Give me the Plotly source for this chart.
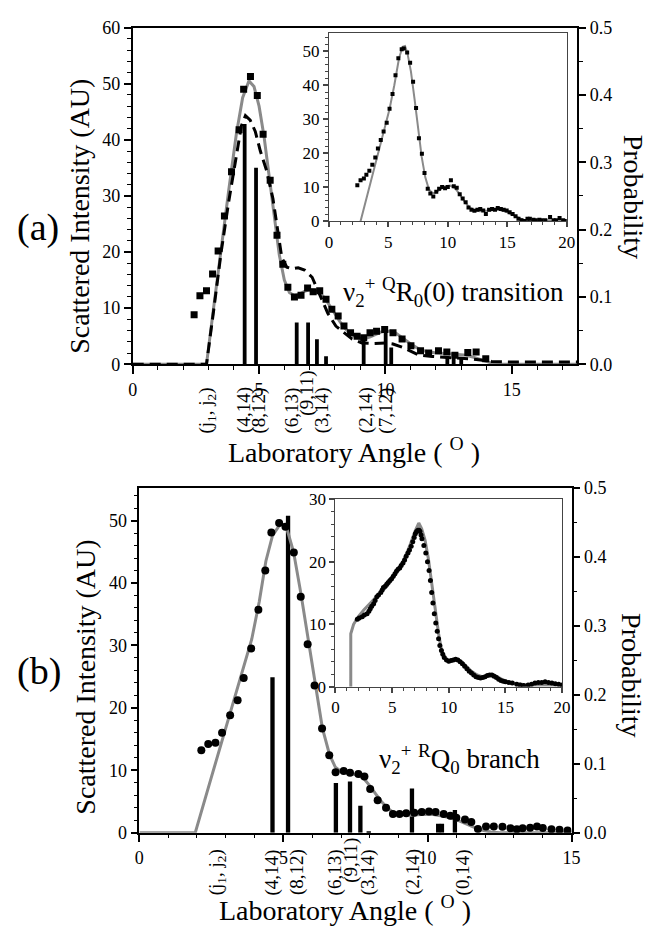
import plotly.graph_objects as go

W, H = 654, 933
FONT = "Liberation Serif, Times New Roman, serif"

# ---------------- panel (a) : main ----------------
a_data_x = [2.43, 2.66, 2.92, 3.16, 3.38, 3.63, 3.91, 4.21, 4.39, 4.66, 4.93, 5.16, 5.44, 5.71,
            5.94, 6.14, 6.40, 6.66, 6.92, 7.14, 7.40, 7.65, 7.88, 8.13, 8.36, 8.62, 8.88, 9.14,
            9.39, 9.65, 9.97, 10.30, 10.66, 11.01, 11.39, 11.71, 12.10, 12.43, 12.75, 13.26,
            13.59, 13.97]
a_data_y = [8.8, 12.2, 13.1, 16.1, 20.2, 26.4, 34.3, 41.8, 49.0, 51.3, 47.9, 41.0, 32.8, 23.0,
            17.8, 13.7, 12.0, 12.3, 13.6, 12.9, 13.1, 11.6, 9.8, 8.6, 6.8, 5.6, 5.0, 4.7,
            5.6, 5.9, 6.2, 5.6, 4.5, 3.3, 2.4, 2.0, 2.4, 2.2, 1.6, 2.1,
            2.2, 1.0]
a_fit_x = [0.0, 2.92, 3.2, 3.5, 3.8, 4.1, 4.35, 4.6, 4.8, 5.0, 5.2, 5.4, 5.6, 5.8, 6.0, 6.2,
           6.4, 6.6, 6.8, 7.0, 7.2, 7.4, 7.6, 7.8, 8.0, 8.2, 8.4, 8.6, 8.8, 9.0, 9.2, 9.4, 9.6,
           9.8, 10.0, 10.2, 10.4, 10.6, 10.8, 11.0, 11.3, 11.6, 12.0, 12.4, 12.8, 13.2, 13.6,
           13.9, 14.2, 14.5, 17.6]
a_fit_y = [0.0, 0.0, 10.0, 21.0, 31.0, 41.0, 47.5, 50.5, 49.5, 46.0, 40.5, 33.5, 26.0, 19.5,
           15.0, 12.8, 12.2, 12.5, 13.0, 13.3, 13.2, 12.7, 11.8, 10.5, 9.0, 7.6, 6.4, 5.5, 4.9,
           4.6, 4.6, 4.9, 5.3, 5.7, 5.9, 5.9, 5.6, 5.0, 4.3, 3.6, 2.8, 2.3, 2.0, 1.9, 1.8, 1.6,
           1.1, 0.6, 0.2, 0.0, 0.0]
a_dash_x = [0.0, 2.92, 3.2, 3.5, 3.8, 4.1, 4.3, 4.46, 4.65, 4.85, 5.05, 5.3, 5.55, 5.75, 5.9,
            6.1, 6.3, 6.55, 6.8, 7.1, 7.33, 7.72, 8.04, 8.36, 8.68, 9.07, 9.5, 10.0, 10.3,
            10.68, 11.0, 11.33, 11.85, 12.5, 13.5, 14.2, 15.0, 17.6]
a_dash_y = [0.0, 0.0, 9.5, 20.0, 29.0, 37.5, 42.5, 44.3, 43.5, 41.5, 38.0, 34.5, 29.5, 23.5,
            19.0, 17.3, 17.0, 17.2, 16.8, 15.5, 13.1, 9.1, 6.8, 5.6, 4.5, 3.8, 3.7, 3.8, 3.6,
            3.0, 2.3, 1.6, 1.4, 1.2, 0.9, 0.5, 0.4, 0.4]
a_bar_x = [4.43, 4.88, 6.49, 6.94, 7.29, 7.65, 9.14, 10.01, 10.23, 12.45, 12.7, 13.0]
a_bar_p = [0.357, 0.292, 0.062, 0.062, 0.037, 0.012, 0.037, 0.054, 0.025, 0.012, 0.015, 0.010]
a_lbl_x = [2.95, 4.43, 5.01, 6.32, 6.90, 7.49, 9.23, 10.04]
a_lbl_txt = ["(j<sub>1</sub>, j<sub>2</sub>)", "(4,14)", "(8,12)", "(6,13)", "(9,11)",
             "(3,14)", "(2,14)", "(7,12)"]

# ---------------- panel (a) : inset ----------------
a_in_x = [2.39, 2.66, 2.94, 3.15, 3.40, 3.65, 3.90, 4.12, 4.36, 4.60, 4.86, 5.10, 5.35, 5.60,
          5.84, 6.12, 6.30, 6.58, 6.83, 7.08, 7.33, 7.57, 7.82, 8.04, 8.31, 8.53, 8.78, 9.03,
          9.27, 9.52, 9.77, 10.00, 10.26, 10.50, 10.75, 11.00, 11.25, 11.50, 11.74, 11.99,
          12.24, 12.49, 12.73, 12.98, 13.20, 13.47, 13.72, 13.97, 14.20, 14.46, 14.70, 14.95,
          15.20, 15.45, 15.70, 15.94, 16.20, 16.43, 16.70, 16.90, 17.20, 17.40, 17.70, 17.90,
          18.20, 18.60, 18.90, 19.10, 19.40, 19.70, 19.90]
a_in_y = [10.6, 12.1, 12.6, 13.7, 14.9, 16.6, 18.8, 21.4, 23.9, 26.4, 29.0, 33.1, 37.4, 42.9,
          47.9, 50.6, 50.8, 49.6, 46.6, 41.0, 33.3, 24.4, 19.9, 14.2, 9.6, 8.2, 7.3, 8.7,
          9.6, 10.1, 9.7, 10.1, 12.1, 10.3, 9.9, 8.0, 6.7, 5.6, 4.1, 3.4,
          3.1, 3.4, 3.6, 3.2, 2.2, 3.4, 3.6, 3.4, 3.9, 3.6, 3.4, 3.2,
          2.7, 2.2, 1.5, 0.8, 0.3, 0.1, 0.8, 0.8, 0.5, 0.3, 0.5, 0.3,
          0.3, 1.3, 0.3, 0.3, 1.0, 0.3, 0.1]
a_infit_x = [2.66, 3.5, 4.0, 4.5, 4.8, 5.1, 5.5, 5.9, 6.2, 6.4, 6.6, 6.9, 7.2, 7.5, 7.8, 8.1,
             8.4, 8.7, 9.0, 9.4, 9.8, 10.2, 10.6, 11.0, 11.4, 11.8, 12.2, 12.7, 13.2, 13.8,
             14.3, 14.8, 15.3, 15.8, 16.3, 17.0, 18.0, 19.0, 20.0]
a_infit_y = [0.0, 11.3, 18.0, 24.7, 28.5, 33.0, 40.0, 48.0, 51.3, 51.5, 49.5, 44.0, 36.0,
             27.0, 19.0, 13.0, 9.5, 8.3, 8.5, 9.5, 10.3, 10.5, 9.8, 8.0, 5.8, 4.2, 3.3, 3.0,
             3.1, 3.3, 3.4, 3.0, 2.2, 1.2, 0.5, 0.3, 0.3, 0.3, 0.3]

# ---------------- panel (b) : main ----------------
b_data_x = [2.15, 2.39, 2.64, 2.87, 3.15, 3.41, 3.62, 3.88, 4.13, 4.37, 4.58, 4.85, 5.07, 5.36,
            5.60, 5.84, 6.08, 6.34, 6.59, 6.81, 7.09, 7.31, 7.60, 7.81, 8.01, 8.27, 8.56, 8.80,
            9.03, 9.26, 9.54, 9.80, 10.05, 10.28, 10.56, 10.79, 11.00, 11.30, 11.52, 11.75,
            12.03, 12.30, 12.60, 12.88, 13.10, 13.30, 13.56, 13.80, 14.00, 14.30, 14.58, 14.86]
b_data_y = [13.2, 14.2, 14.4, 16.0, 18.8, 21.2, 24.8, 29.5, 35.7, 42.0, 48.1, 49.6, 49.0, 44.9,
            37.8, 30.2, 23.6, 16.7, 12.4, 9.7, 9.9, 9.6, 9.4, 9.0, 7.0, 5.2, 4.0, 3.0,
            3.0, 3.1, 3.2, 3.3, 3.4, 3.3, 3.0, 2.7, 2.4, 2.1, 1.7, 0.6,
            1.0, 1.0, 0.95, 0.7, 0.55, 0.7, 0.8, 1.0, 0.75, 0.55, 0.45, 0.35]
b_fit_x = [0.0, 1.94, 2.5, 3.0, 3.5, 3.9, 4.16, 4.39, 4.62, 4.9, 5.1, 5.35, 5.6, 5.85, 6.1,
           6.35, 6.6, 6.8, 7.0, 7.3, 7.6, 7.8, 8.0, 8.2, 8.4, 8.6, 8.8, 9.0, 9.4, 9.8, 10.2,
           10.6, 11.0, 11.4, 11.8, 12.2, 12.5, 15.0]
b_fit_y = [0.0, 0.0, 8.9, 16.8, 24.7, 31.0, 37.0, 43.5, 47.6, 49.5, 49.0, 45.0, 38.5, 31.0,
           23.5, 16.8, 12.5, 10.5, 9.8, 9.5, 9.2, 8.6, 7.5, 6.2, 5.0, 4.0, 3.3, 3.0, 2.8,
           2.9, 2.9, 2.6, 2.1, 1.3, 0.5, 0.1, 0.0, 0.0]
b_bar_x = [4.62, 5.16, 6.82, 7.31, 7.67, 7.96, 9.46, 10.37, 10.50, 10.95]
b_bar_p = [0.225, 0.459, 0.072, 0.074, 0.039, 0.002, 0.064, 0.013, 0.013, 0.033]
b_lbl_x = [2.70, 4.62, 5.47, 6.80, 7.36, 7.94, 9.49, 11.24]
b_lbl_txt = ["(j<sub>1</sub>, j<sub>2</sub>)", "(4,14)", "(8,12)", "(6,13)", "(9,11)",
             "(3,14)", "(2,14)", "(0,14)"]

# ---------------- panel (b) : inset ----------------
b_in_x = [1.93, 2.10, 2.36, 2.55, 2.79, 2.95, 3.07, 3.20, 3.37, 3.50, 3.65, 3.80, 4.00, 4.12,
          4.23, 4.38, 4.52, 4.65, 4.80, 4.95, 5.10, 5.25, 5.38, 5.52, 5.67, 5.80, 5.96, 6.10,
          6.24, 6.40, 6.53, 6.68, 6.82, 6.95, 7.05, 7.15, 7.25, 7.35, 7.45, 7.55, 7.63, 7.80,
          7.97, 8.12, 8.26, 8.38, 8.49, 8.60, 8.72, 8.85, 8.98, 9.10, 9.21, 9.35, 9.47, 9.60,
          9.80, 10.0, 10.2, 10.4, 10.6, 10.8, 11.0, 11.2, 11.4, 11.6, 11.8, 12.0, 12.2, 12.4,
          12.6, 12.8, 13.0, 13.2, 13.4, 13.6, 13.8, 14.0, 14.2, 14.4, 14.6, 14.8, 15.0, 15.3,
          15.6, 16.0, 16.3, 16.6, 17.0, 17.3, 17.6, 17.9, 18.2, 18.5, 18.8, 19.1, 19.4, 19.7,
          20.0]
b_in_y = [10.8, 11.0, 11.2, 11.5, 11.7, 12.1, 12.5, 12.9, 13.3, 13.8, 14.4, 14.7, 15.1, 15.5,
          15.9, 16.1, 16.4, 16.7, 17.0, 17.3, 17.7, 18.1, 18.5, 18.8, 19.0, 19.4, 19.8, 20.3,
          20.9, 21.4, 21.9, 22.5, 23.2, 23.9, 24.5, 24.8, 25.0, 25.1, 24.9, 24.3, 23.7, 22.6,
          21.4, 20.0, 18.6, 17.0, 15.1, 13.4, 11.7, 10.2, 8.9, 7.7, 6.6, 5.8, 5.2, 4.7,
          4.3, 4.1, 4.2, 4.3, 4.4, 4.3, 4.0, 3.7, 3.3, 2.9, 2.5, 2.2, 1.9, 1.6,
          1.5, 1.4, 1.5, 1.6, 1.8, 1.9, 1.9, 1.7, 1.5, 1.2, 1.0, 0.9, 0.8, 0.7,
          0.6, 0.4, 0.3, 0.2, 0.3, 0.4, 0.6, 0.7, 0.7, 0.8, 0.7, 0.6, 0.5, 0.4,
          0.3]
b_infit_x = [1.35, 1.35, 1.6, 2.0, 2.5, 3.0, 3.5, 4.0, 4.5, 5.0, 5.5, 6.0, 6.5, 7.0, 7.35,
             7.6, 7.9, 8.2, 8.5, 8.8, 9.1, 9.4, 9.7, 10.0, 10.4, 10.8, 11.2, 11.6, 12.0, 12.5,
             13.0, 13.5, 13.9, 14.3, 14.8, 15.3, 16.0, 17.0, 18.0, 19.0, 20.0]
b_infit_y = [0.0, 8.5, 10.0, 11.2, 12.3, 13.3, 14.2, 15.1, 16.0, 17.2, 18.6, 20.2, 22.3, 24.8,
             26.2, 25.3, 23.5, 20.5, 16.5, 12.5, 8.5, 5.5, 4.3, 4.0, 4.3, 4.4, 3.9, 3.2, 2.5,
             1.9, 1.6, 1.8, 2.0, 1.6, 1.1, 0.8, 0.5, 0.3, 0.3, 0.3, 0.3]

GRAY = "#8a8a8a"


def px2x(p):
    return p / W


def px2y(p):
    return 1 - p / H


fig = go.Figure()

# panel (a)
fig.add_trace(go.Bar(x=a_bar_x, y=a_bar_p, width=0.15, marker=dict(color="black", line=dict(width=0)),
                     xaxis="x", yaxis="y"))
fig.add_trace(go.Scatter(x=a_fit_x, y=a_fit_y, mode="lines", line=dict(color=GRAY, width=3),
                         xaxis="x", yaxis="y2"))
fig.add_trace(go.Scatter(x=a_dash_x, y=a_dash_y, mode="lines",
                         line=dict(color="black", width=3, dash="11px,6px"), xaxis="x", yaxis="y2"))
fig.add_trace(go.Scatter(x=a_data_x, y=a_data_y, mode="markers",
                         marker=dict(symbol="square", size=7, color="black"), xaxis="x", yaxis="y2"))
# inset (a)
fig.add_trace(go.Scatter(x=a_infit_x, y=a_infit_y, mode="lines", line=dict(color=GRAY, width=2),
                         xaxis="x3", yaxis="y5"))
fig.add_trace(go.Scatter(x=a_in_x, y=a_in_y, mode="markers",
                         marker=dict(symbol="square", size=4, color="black"), xaxis="x3", yaxis="y5"))

# panel (b)
fig.add_trace(go.Bar(x=b_bar_x, y=b_bar_p, width=0.15, marker=dict(color="black", line=dict(width=0)),
                     xaxis="x2", yaxis="y3"))
fig.add_trace(go.Scatter(x=b_fit_x, y=b_fit_y, mode="lines", line=dict(color=GRAY, width=3),
                         xaxis="x2", yaxis="y4"))
fig.add_trace(go.Scatter(x=b_data_x, y=b_data_y, mode="markers",
                         marker=dict(symbol="circle", size=8, color="black"), xaxis="x2", yaxis="y4"))
# inset (b)
fig.add_trace(go.Scatter(x=b_infit_x, y=b_infit_y, mode="lines", line=dict(color=GRAY, width=3),
                         xaxis="x4", yaxis="y6"))
fig.add_trace(go.Scatter(x=b_in_x, y=b_in_y, mode="markers",
                         marker=dict(symbol="circle", size=5, color="black"), xaxis="x4", yaxis="y6"))


def ax(size=18, ticklen=8, minor_dtick=None, minor_len=4, lw=1.5, color="black", **kw):
    d = dict(showgrid=False, zeroline=False, showline=True, linecolor=color, linewidth=lw,
             ticks="outside", ticklen=ticklen, tickwidth=1.5, tickcolor=color,
             tickfont=dict(family=FONT, size=size, color="black"), fixedrange=True)
    if minor_dtick is not None:
        d["minor"] = dict(ticks="outside", dtick=minor_dtick, ticklen=minor_len,
                          tickcolor=color, tickwidth=1.2, showgrid=False)
    d.update(kw)
    return d


fig.update_layout(
    width=W, height=H, margin=dict(l=0, r=0, t=0, b=0),
    paper_bgcolor="white", plot_bgcolor="rgba(0,0,0,0)", showlegend=False, barmode="overlay",
    font=dict(family=FONT, color="black"),
    # panel (a)
    xaxis=ax(domain=[px2x(130.5), px2x(585)], range=[0, 17.6], anchor="y", tickvals=[0, 5, 10, 15],
             minor_dtick=1, mirror=True),
    yaxis=ax(domain=[px2y(362), px2y(18)], range=[0, 0.5], anchor="x", side="right", dtick=0.1,
             tickformat=".1f", ticklen=7, minor_dtick=0.05),
    yaxis2=ax(range=[0, 60], anchor="x", overlaying="y", side="left", dtick=10, ticklen=7,
              minor_dtick=2),
    # panel (b)
    xaxis2=ax(domain=[px2x(137.3), px2x(579)], range=[0, 15], anchor="y3", tickvals=[0, 5, 10, 15],
              minor_dtick=1, mirror=True),
    yaxis3=ax(domain=[px2y(840.7), px2y(488)], range=[0, 0.5], anchor="x2", side="right", dtick=0.1,
              tickformat=".1f", ticklen=7, minor_dtick=0.05),
    yaxis4=ax(range=[0, 55.3], anchor="x2", overlaying="y3", side="left", dtick=10, ticklen=7,
              minor_dtick=2),
    # inset (a)
    xaxis3=ax(size=17, ticklen=5, minor_dtick=1, minor_len=3, lw=1, color="#444",
              domain=[px2x(331), px2x(574)], range=[0, 20], anchor="y5", dtick=5, mirror=True),
    yaxis5=ax(size=17, ticklen=5, minor_dtick=2, minor_len=3, lw=1, color="#444",
              domain=[px2y(216), px2y(24)], range=[0, 55.2], anchor="x3", dtick=10, mirror=True),
    # inset (b)
    xaxis4=ax(size=17, ticklen=5, minor_dtick=1, minor_len=3, lw=1, color="#444",
              domain=[px2x(337.7), px2x(569.3)], range=[0, 20], anchor="y6", dtick=5, mirror=True),
    yaxis6=ax(size=17, ticklen=5, minor_dtick=2, minor_len=3, lw=1, color="#444",
              domain=[px2y(691.7), px2y(500)], range=[0, 30], anchor="x4", dtick=10, mirror=True),
)

ann = []


def text_at(px, py, text, size, angle=0):
    ann.append(dict(x=px2x(px), y=px2y(py), xref="paper", yref="paper", text=text, showarrow=False,
                    xanchor="center", yanchor="middle", textangle=angle,
                    font=dict(family=FONT, size=size, color="black")))


text_at(34, 222, "(a)", 38)
text_at(35, 676, "(b)", 38)
text_at(76, 211, "Scattered Intensity (AU)", 28, -90)
text_at(82, 682, "Scattered Intensity (AU)", 28, -90)
text_at(642, 191, "Probability", 28, 90)
text_at(640, 680, "Probability", 28, 90)
text_at(357, 450, "Laboratory Angle ( <sup>O</sup> )", 28)
text_at(347, 918, "Laboratory Angle ( <sup>O</sup> )", 28)
text_at(458, 288, "ν<sub>2</sub><sup>+</sup> <sup>Q</sup>R<sub>0</sub>(0) transition", 27)
text_at(464, 765, "ν<sub>2</sub><sup>+</sup> <sup>R</sup>Q<sub>0</sub> branch", 27)

for xv, t in zip(a_lbl_x, a_lbl_txt):
    cy = 392 if t == "(9,11)" else 409
    ann.append(dict(x=xv, xref="x", y=px2y(cy), yref="paper", text=t, showarrow=False,
                    textangle=-90, xanchor="center", yanchor="middle",
                    font=dict(family=FONT, size=19, color="black")))
for xv, t in zip(b_lbl_x, b_lbl_txt):
    cy = 869 if t == "(9,11)" else 881
    ann.append(dict(x=xv, xref="x2", y=px2y(cy), yref="paper", text=t, showarrow=False,
                    textangle=-90, xanchor="center", yanchor="middle",
                    font=dict(family=FONT, size=19, color="black")))

fig.update_layout(annotations=ann)
fig.write_html("out.html")
